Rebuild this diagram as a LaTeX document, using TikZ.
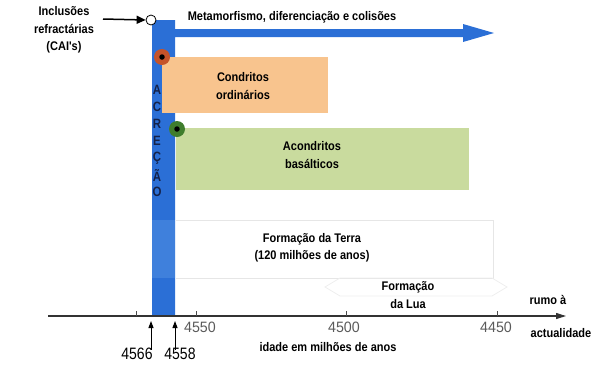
\documentclass[tikz,border=0pt]{standalone}
\usepackage{fontspec}
\setmainfont{Liberation Sans}
\newfontfamily\cond[FakeStretch=0.88]{Liberation Sans}
\newfontfamily\numf[FakeStretch=0.85]{Liberation Sans}
\newfontfamily\tickf[FakeStretch=0.95]{Liberation Sans}
\usetikzlibrary{arrows.meta}
\definecolor{barblue}{HTML}{2B6FD6}
\definecolor{barlight}{HTML}{3F80DC}
\definecolor{orangebox}{HTML}{F8C48E}
\definecolor{greenbox}{HTML}{C9DB9E}
\definecolor{navy}{HTML}{14224A}
\definecolor{rust}{HTML}{C4532A}
\definecolor{leaf}{HTML}{3F7D2C}
\definecolor{faint}{HTML}{E6E6E6}
\definecolor{fainter}{HTML}{EEEEEE}
\definecolor{ticknum}{HTML}{5A5A5A}
\begin{document}
\begin{tikzpicture}[x=1pt,y=-1pt,
  lbl/.style={font=\cond\bfseries\fontsize{12.5}{17.5}\selectfont, align=center, inner sep=0pt},
  vlet/.style={font=\numf\bfseries\fontsize{13.5}{14}\selectfont, text=navy, inner sep=0pt},
  tnum/.style={font=\tickf\fontsize{15}{17}\selectfont, text=ticknum, inner sep=0pt},
  bnum/.style={font=\numf\fontsize{16.5}{18}\selectfont, inner sep=0pt},
  period/.style={inner sep=0pt, anchor=north west},
  dotmark/.style={circle, inner sep=0pt, minimum size=16pt, line width=0pt},
  core/.style={circle, fill=black, inner sep=0pt, minimum size=5.5pt}
]
\useasboundingbox (0,0) rectangle (600,365);

% accretion bar with arrow
\fill[barblue] (152,20) -- (175,20) -- (175,29) -- (463,29) -- (463,24) -- (494,33)
  -- (463,42) -- (463,37) -- (175,37) -- (175,316) -- (152,316) -- cycle;
\fill[barlight] (152,220) rectangle (175,278);

% period boxes
\node[period, fill=orangebox, minimum width=166pt, minimum height=56pt] (condbox) at (162,57) {};
\node[period, fill=greenbox, minimum width=293pt, minimum height=62pt] (acondbox) at (176,128) {};
\node[period, fill=white, minimum width=317pt, minimum height=58pt] (terrabox) at (176,220) {};
\draw[faint, line width=0.8pt] (terrabox.north west) -- (terrabox.north east) -- (terrabox.south east) -- (terrabox.south west);
\draw[fainter, line width=0.8pt] (325,287) -- (340,278) -- (492,278) -- (507,287) -- (492,296) -- (340,296) -- cycle;

% labels
\node[lbl] (meta) at (292,17) {Metamorfismo, diferenciação e colisões};
\node[lbl] (condl) at (243,86) {Condritos\\ordinários};
\node[lbl] (acondl) at (312,155) {Acondritos\\basálticos};
\node[lbl] (terral) at (312,248) {Formação da Terra\\(120 milhões de anos)};
\node[lbl] (lual) at (408,295) {Formação\\da Lua};
\node[lbl] (cai) at (64,30) {Inclusões\\refractárias\\(CAI's)};

% ACREÇÃO
\foreach \l [count=\i] in {A,C,R,E,Ç,Ã,O}
  \node[vlet] (let\i) at (157,{73+17*\i}) {\l};

% markers
\node[circle, draw=black, fill=white, line width=0.8pt, inner sep=0pt, minimum size=10pt] (cais) at (151,20) {};
\coordinate (caitail) at (103,19);
\draw[-{Triangle[length=9pt,width=8pt]}, line width=1.5pt] (caitail) -- (cais.west);
\node[dotmark, fill=rust] (cdot) at (162,57) {};
\node[core] (cdotc) at (cdot) {};
\node[dotmark, fill=leaf] (adot) at (177,129) {};
\node[core] (adotc) at (adot) {};

% axis
\coordinate (axL) at (48,316);
\coordinate (axR) at (566,316);
\draw[line width=1.1pt, draw=black!80, -{Triangle[length=10pt,width=6pt]}] (axL) -- (axR);
\foreach \x in {136,196,346,497}
  \draw[line width=0.8pt, draw=black!70] (\x,316) -- (\x,311);
\node[tnum] (n4550) at (200,327.5) {4550};
\node[tnum] (n4500) at (344,327.5) {4500};
\node[tnum] (n4450) at (496,327.5) {4450};
\node[lbl] (idade) at (328,347) {idade em milhões de anos};
\node[lbl] (rumo) at (548,300) {rumo à};
\node[lbl] (actual) at (561,333) {actualidade};

% key ages
\node[bnum] (a4566) at (137,354) {4566};
\node[bnum] (a4558) at (180,354) {4558};
\coordinate (p4566) at (151,321);
\coordinate (p4558) at (175,321);
\draw[line width=1pt, -{Triangle[length=7pt,width=5pt]}] ([yshift=-2pt]p4566 |- a4566.north) -- (p4566);
\draw[line width=1pt, -{Triangle[length=7pt,width=5pt]}] ([yshift=-2pt]p4558 |- a4558.north) -- (p4558);
\end{tikzpicture}
\end{document}
